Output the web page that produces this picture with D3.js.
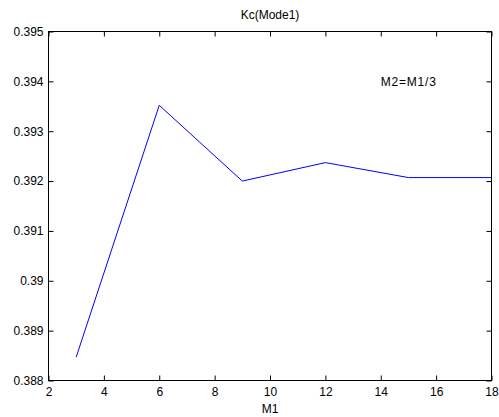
<!DOCTYPE html>
<html>
<head>
<meta charset="utf-8">
<script src="https://cdn.jsdelivr.net/npm/d3@7"></script>
<style>
    body { margin: 0; background: #fff; }
    text { font-family: "Liberation Sans", Arial, sans-serif; }
</style>
</head>
<body>
<script>
// values
const m1 = [3, 6, 9, 12, 15, 18];
const kc = [0.38847, 0.39352, 0.39200, 0.39237, 0.39207, 0.39207];
const xTicks = [2, 4, 6, 8, 10, 12, 14, 16, 18];
const yTicks = [0.388, 0.389, 0.39, 0.391, 0.392, 0.393, 0.394, 0.395];

const width = 499, height = 417;
const margin = {top: 31.5, right: 7.5, bottom: 36.5, left: 48.5};

const svg = d3.select("body").append("svg")
    .attr("width", width)
    .attr("height", height);

const x = d3.scaleLinear()
    .domain([2, 18])
    .range([margin.left, width - margin.right]);

const y = d3.scaleLinear()
    .domain([0.388, 0.395])
    .range([height - margin.bottom, margin.top]);

const fmt = d => String(+d.toFixed(3));

// bottom and left axes, ticks pointing inward like matlab
svg.append("g")
    .attr("transform", `translate(0,${height - margin.bottom})`)
    .call(d3.axisBottom(x).tickValues(xTicks).tickSize(-5).tickPadding(7).tickFormat(d => d))
    .call(g => g.select(".domain").remove());

svg.append("g")
    .attr("transform", `translate(${margin.left},0)`)
    .call(d3.axisLeft(y).tickValues(yTicks).tickSize(-5).tickPadding(5).tickFormat(fmt))
    .call(g => g.select(".domain").remove());

// top and right ticks without labels
svg.append("g")
    .attr("transform", `translate(0,${margin.top})`)
    .call(d3.axisTop(x).tickValues(xTicks).tickSize(-5).tickFormat(""))
    .call(g => g.select(".domain").remove());

svg.append("g")
    .attr("transform", `translate(${width - margin.right},0)`)
    .call(d3.axisRight(y).tickValues(yTicks).tickSize(-5).tickFormat(""))
    .call(g => g.select(".domain").remove());

svg.selectAll(".tick text")
    .attr("font-size", 12)
    .attr("fill", "#000")
    .attr("font-family", "Liberation Sans, Arial, sans-serif");

// box
svg.append("rect")
    .attr("x", margin.left)
    .attr("y", margin.top)
    .attr("width", width - margin.left - margin.right)
    .attr("height", height - margin.top - margin.bottom)
    .attr("fill", "none")
    .attr("stroke", "#000")
    .attr("stroke-width", 1);

// the line
const line = d3.line()
    .x((d, i) => x(m1[i]))
    .y(d => y(d));

svg.append("path")
    .datum(kc)
    .attr("d", line)
    .attr("fill", "none")
    .attr("stroke", "#0000ff")
    .attr("stroke-width", 1);

// title, label and note
svg.append("text")
    .attr("x", (margin.left + width - margin.right) / 2)
    .attr("y", 19)
    .attr("text-anchor", "middle")
    .attr("font-size", 12)
    .text("Kc(Mode1)");

svg.append("text")
    .attr("x", (margin.left + width - margin.right) / 2)
    .attr("y", 413)
    .attr("text-anchor", "middle")
    .attr("font-size", 12)
    .text("M1");

svg.append("text")
    .attr("x", x(14))
    .attr("y", y(0.3939))
    .attr("font-size", 12)
    .attr("letter-spacing", 0.8)
    .text("M2=M1/3");
</script>
</body>
</html>
